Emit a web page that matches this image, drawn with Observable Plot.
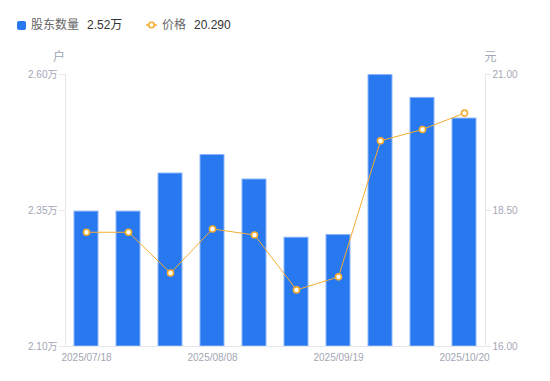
<!DOCTYPE html>
<html><head><meta charset="utf-8">
<script src="https://cdn.jsdelivr.net/npm/d3@7"></script>
<script src="https://cdn.jsdelivr.net/npm/@observablehq/plot@0.6"></script>
<style>
body{margin:0;background:#fff;font-family:"Liberation Sans","Noto Sans CJK SC",sans-serif;}
#wrap{position:relative;width:550px;height:381px;}
#legend{position:absolute;left:0;top:0;height:50px;width:550px;font-size:12px;z-index:2;}
.item{position:absolute;top:17px;display:flex;align-items:center;white-space:nowrap;line-height:16px;}
.lab{color:#666;}
.val{color:#333;margin-left:8px;}
</style></head><body>
<div id="wrap">
<div id="legend">
  <div class="item" style="left:17px"><span style="display:inline-block;width:9px;height:9px;background:#2878f0;border-radius:2px;margin-right:5px"></span><span class="lab">股东数量</span><span class="val" id="v1"></span></div>
  <div class="item" style="left:146px"><svg width="11" height="10" style="margin-right:5px"><line x1="0" y1="5" x2="11" y2="5" stroke="#f7ac30" stroke-width="1.5"/><circle cx="5.5" cy="5" r="2.7" fill="#fff" stroke="#f7ac30" stroke-width="1.6"/></svg><span class="lab">价格</span><span class="val" id="v2"></span></div>
</div>
<div id="chart"></div>
</div>
<script>
const dates = ["2025/07/18","2025/07/25","2025/07/31","2025/08/08","2025/08/20","2025/08/31","2025/09/19","2025/09/30","2025/10/10","2025/10/20"];
const holders = [2.348, 2.348, 2.418, 2.452, 2.407, 2.300, 2.305, 2.599, 2.557, 2.519]; // 万户
const prices = [18.10, 18.10, 17.35, 18.16, 18.05, 17.04, 17.28, 19.78, 19.99, 20.29]; // 元
const shownDates = ["2025/07/18","2025/08/08","2025/09/19","2025/10/20"];
const holderTicks = [2.10, 2.35, 2.60];
const priceTicks = [16, 18.5, 21];

document.getElementById("v1").textContent = holders[holders.length-1].toFixed(2) + "万";
document.getElementById("v2").textContent = prices[prices.length-1].toFixed(3);

const hMin = 2.10, hMax = 2.60, pMin = 16, pMax = 21;
const toY = p => hMin + (p - pMin) / (pMax - pMin) * (hMax - hMin);
const data = dates.map((d, i) => ({date: d, h: holders[i], p: toY(prices[i])}));

const axisColor = "#a3a6b4";
const lineColor = "#e6e7eb";

const sideLines = (index, scales, values, dim) => {
  const g = d3.create("svg:g");
  const y0 = dim.marginTop, y1 = dim.height - dim.marginBottom;
  [dim.marginLeft, dim.width - dim.marginRight].forEach(x => {
    g.append("line").attr("x1", x).attr("x2", x).attr("y1", y0).attr("y2", y1)
      .attr("stroke", lineColor).attr("stroke-width", 1).attr("shape-rendering","crispEdges");
  });
  return g.node();
};

const chart = Plot.plot({
  width: 550,
  height: 381,
  marginTop: 74,
  marginBottom: 35,
  marginLeft: 65,
  marginRight: 65,
  style: {fontFamily: '"Liberation Sans","Noto Sans CJK SC",sans-serif', fontSize: "10px", color: axisColor, background: "transparent"},
  x: {type: "band", domain: dates, paddingInner: 0.43, paddingOuter: 0.215, axis: null},
  y: {domain: [hMin, hMax], axis: null},
  marks: [
    Plot.barY(data, {x: "date", y1: hMin, y2: "h", fill: "#2878f0", stroke: "#8db5f7", strokeWidth: 1}),
    sideLines,
    Plot.ruleY([hMin], {stroke: lineColor}),
    Plot.axisY(holderTicks, {anchor: "left", tickSize: 6, tickPadding: 2, stroke: lineColor, fill: axisColor, tickFormat: d => d.toFixed(2) + "万", label: null}),
    Plot.axisY(priceTicks.map(toY), {anchor: "right", tickSize: 5, tickPadding: 2, stroke: lineColor, fill: axisColor, tickFormat: (d, i) => priceTicks[i].toFixed(2), label: null}),
    Plot.axisX(shownDates, {anchor: "bottom", tickSize: 0, tickPadding: 7, fill: axisColor, label: null}),
    Plot.line(data, {x: "date", y: "p", stroke: "#f7ac30", strokeWidth: 1}),
    Plot.dot(data, {x: "date", y: "p", r: 3, fill: "#fff", stroke: "#f7ac30", strokeWidth: 1.6}),
    Plot.text(["户"], {frameAnchor: "top-left", textAnchor: "middle", lineAnchor: "middle", dx: -6.5, dy: -17, fill: axisColor, fontSize: 12}),
    Plot.text(["元"], {frameAnchor: "top-right", textAnchor: "middle", lineAnchor: "middle", dx: 5, dy: -17, fill: axisColor, fontSize: 12})
  ]
});
document.getElementById("chart").appendChild(chart);
</script>
</body></html>
